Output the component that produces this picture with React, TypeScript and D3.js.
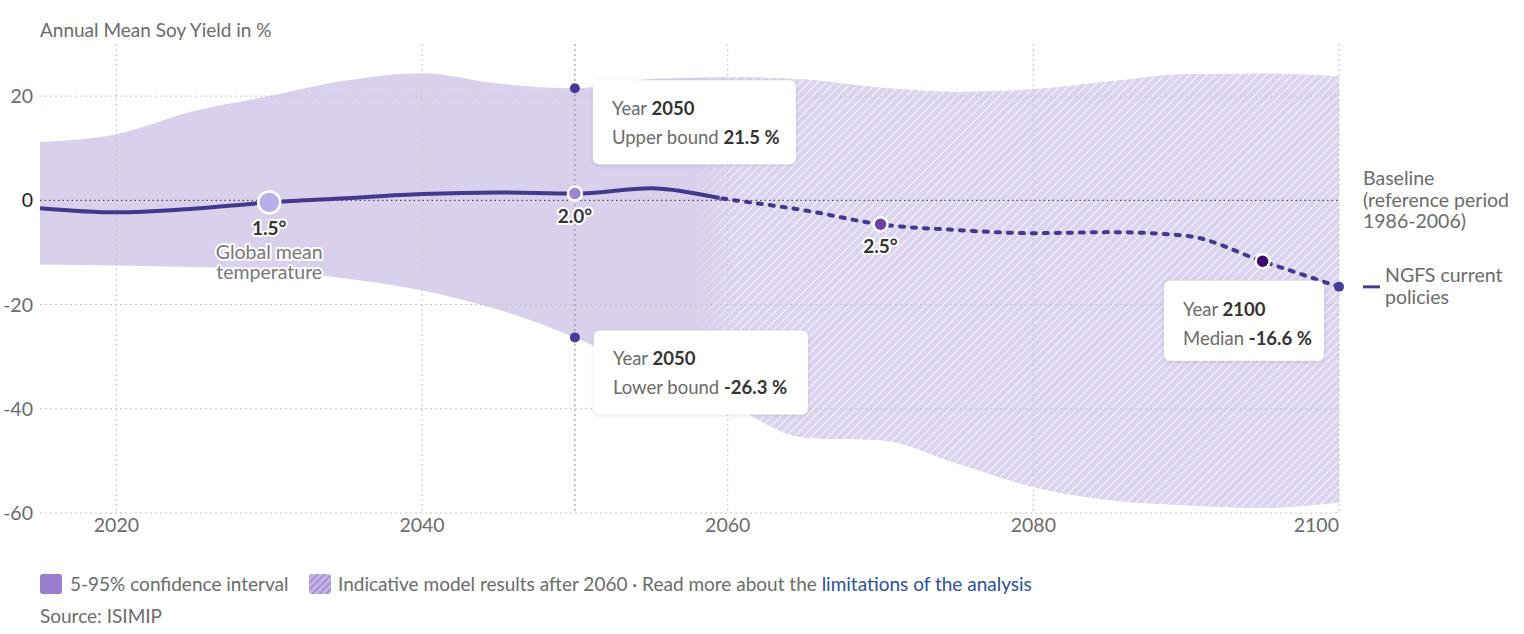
import * as d3 from "d3";

const years = [2015, 2020, 2025, 2030, 2035, 2040, 2045, 2050, 2055, 2060, 2065, 2070, 2075, 2080, 2085, 2090, 2095, 2100];
const median = [-1.5, -2.3, -1.6, -0.4, 0.4, 1.2, 1.5, 1.3, 2.3, 0.2, -1.9, -4.6, -5.7, -6.3, -6.1, -6.8, -11.7, -16.6];
const upper = [11.2, 12.7, 17.1, 20, 23, 24.4, 22.4, 21.5, 23.3, 23.6, 23.2, 21.6, 20.8, 21.3, 22.8, 24.2, 24.3, 23.8];
const lower = [-12.3, -12.5, -12.8, -13.3, -15, -17.3, -21, -26.3, -33, -39, -45.5, -46, -50.5, -55, -57.5, -58.5, -59, -58];

const xTicks = [2020, 2040, 2060, 2080, 2100];
const yTicks = [20, 0, -20, -40, -60];

const tempYears = [2030, 2050, 2070, 2095];
const tempLabels = ["1.5°", "2.0°", "2.5°", ""];
const tempColors = ["#b8aeea", "#9c86cf", "#6b3fa3", "#3c0b6c"];
const tempRadius = [11, 7, 7, 7];

const hatchFrom = 2060;
const hoverYear = 2050;

const W = 1524;
const H = 634;
const FONT = "Lato, 'Open Sans', sans-serif";

const x = d3.scaleLinear().domain([2015, 2100]).range([40, 1339]);
const y = d3.scaleLinear().domain([-60, 30]).range([513, 44]);

const rows = years.map((yr, i) => ({ yr, m: median[i], u: upper[i], l: lower[i] }));
const valAt = (yr: number, arr: number[]) => arr[years.indexOf(yr)];

const area = d3
  .area<(typeof rows)[number]>()
  .x((d) => x(d.yr))
  .y0((d) => y(d.l))
  .y1((d) => y(d.u))
  .curve(d3.curveMonotoneX);

const line = d3
  .line<(typeof rows)[number]>()
  .x((d) => x(d.yr))
  .y((d) => y(d.m))
  .curve(d3.curveMonotoneX);

type TipProps = { bx: number; by: number; w: number; h: number; l1: string; b1: string; l2: string; b2: string };
const Tip = ({ bx, by, w, h, l1, b1, l2, b2 }: TipProps) => (
  <g transform={`translate(${bx},${by})`}>
    <rect width={w} height={h} rx={6} fill="#fff" filter="url(#shadow)" />
    <text x={19} y={35} fontSize={18.5} fill="#6b6b6b">
      {l1} <tspan fontWeight={700} fill="#333">{b1}</tspan>
    </text>
    <text x={19} y={64} fontSize={18.5} fill="#6b6b6b">
      {l2} <tspan fontWeight={700} fill="#333">{b2}</tspan>
    </text>
  </g>
);

export default function App() {
  const hx = x(hatchFrom);
  const hoverX = x(hoverYear);
  const endYear = years[years.length - 1];
  const halo = { paintOrder: "stroke" as const, stroke: "#fff", strokeWidth: 4, strokeLinejoin: "round" as const };

  return (
    <svg width={W} height={H} style={{ position: "absolute", left: 0, top: 0, fontFamily: FONT }}>
      <defs>
        <pattern id="hatch" patternUnits="userSpaceOnUse" width={6} height={6} patternTransform="rotate(45)">
          <rect width={6} height={6} fill="#dcd4ee" />
          <line x1={0} y1={0} x2={0} y2={6} stroke="#fff" strokeWidth={1.6} />
        </pattern>
        <pattern id="hatchLegend" patternUnits="userSpaceOnUse" width={5} height={5} patternTransform="rotate(45)">
          <rect width={5} height={5} fill="#c4b3e6" />
          <line x1={0} y1={0} x2={0} y2={5} stroke="#9a7fd0" strokeWidth={2.6} />
        </pattern>
        <linearGradient id="fadeGrad" gradientUnits="userSpaceOnUse" x1={hx - 35} x2={hx + 10} y1={0} y2={0}>
          <stop offset="0" stopColor="#000" />
          <stop offset="1" stopColor="#fff" />
        </linearGradient>
        <mask id="fadeMask">
          <rect x={0} y={0} width={W} height={H} fill="url(#fadeGrad)" />
        </mask>
        <clipPath id="solidClip">
          <rect x={0} y={0} width={hx - 8} height={H} />
        </clipPath>
        <clipPath id="dashClip">
          <rect x={hx - 8} y={0} width={W} height={H} />
        </clipPath>
        <filter id="shadow" x="-10%" y="-10%" width="120%" height="130%">
          <feDropShadow dx={0} dy={1} stdDeviation={2} floodColor="#000" floodOpacity={0.12} />
        </filter>
      </defs>

      {/* title */}
      <text x={40} y={37} fontSize={19} fill="#6b6b6b">Annual Mean Soy Yield in %</text>

      {/* band */}
      <path d={area(rows) ?? ""} fill="#d9d0eb" />
      <path d={area(rows) ?? ""} fill="url(#hatch)" mask="url(#fadeMask)" />

      {/* grid */}
      {xTicks.map((t) => (
        <line key={t} x1={x(t)} x2={x(t)} y1={44} y2={513} stroke="#c4c4cc" strokeDasharray="2 3" />
      ))}
      {yTicks.map((t) => (
        <line
          key={t}
          x1={40}
          x2={1339}
          y1={y(t)}
          y2={y(t)}
          stroke={t === 0 ? "#333" : "#c4c4cc"}
          strokeDasharray={t === 0 ? "1.5 3" : "2 3"}
        />
      ))}
      <line x1={hoverX} x2={hoverX} y1={44} y2={513} stroke="#8a8a96" strokeDasharray="2 3" />

      {/* axis labels */}
      {yTicks.map((t) => (
        <text key={t} x={33} y={y(t) + 7} textAnchor="end" fontSize={19.5} fill={t === 0 ? "#222" : "#6b6b6b"}>
          {t}
        </text>
      ))}
      {xTicks.map((t) => (
        <text key={t} x={x(t)} y={532} textAnchor={t === endYear ? "end" : "middle"} fontSize={19.5} fill="#6b6b6b">
          {t}
        </text>
      ))}

      {/* median line */}
      <path d={line(rows) ?? ""} fill="none" stroke="#41388f" strokeWidth={4} clipPath="url(#solidClip)" />
      <path
        d={line(rows) ?? ""}
        fill="none"
        stroke="#41388f"
        strokeWidth={4}
        strokeDasharray="4 8"
        strokeLinecap="round"
        clipPath="url(#dashClip)"
      />

      {/* temperature markers */}
      {tempYears.map((yr, i) => {
        const cx = x(yr);
        const cy = y(valAt(yr, median));
        return (
          <g key={yr}>
            <circle cx={cx} cy={cy} r={tempRadius[i]} fill={tempColors[i]} stroke="#fff" strokeWidth={2.5} />
            {tempLabels[i] && (
              <text x={cx} y={cy + tempRadius[i] + 22} textAnchor="middle" fontSize={19} fontWeight={700} fill="#333" style={halo}>
                {tempLabels[i]}
              </text>
            )}
          </g>
        );
      })}
      <text x={x(2030)} y={y(valAt(2030, median)) + 57} textAnchor="middle" fontSize={19.5} fill="#777" style={halo}>
        <tspan x={x(2030)}>Global mean</tspan>
        <tspan x={x(2030)} dy={20}>temperature</tspan>
      </text>

      {/* hover points */}
      <circle cx={hoverX} cy={y(valAt(hoverYear, upper))} r={5} fill="#463c98" />
      <circle cx={hoverX} cy={y(valAt(hoverYear, lower))} r={5} fill="#463c98" />
      <circle cx={x(endYear)} cy={y(valAt(endYear, median))} r={5} fill="#463c98" />

      {/* tooltips */}
      <Tip
        bx={hoverX + 18}
        by={y(valAt(hoverYear, upper)) - 8}
        w={203}
        h={84}
        l1="Year"
        b1={String(hoverYear)}
        l2="Upper bound"
        b2={`${valAt(hoverYear, upper)} %`}
      />
      <Tip
        bx={hoverX + 19}
        by={y(valAt(hoverYear, lower)) - 7}
        w={214}
        h={84}
        l1="Year"
        b1={String(hoverYear)}
        l2="Lower bound"
        b2={`${valAt(hoverYear, lower)} %`}
      />
      <Tip
        bx={x(endYear) - 175}
        by={y(valAt(endYear, median)) - 6}
        w={160}
        h={80}
        l1="Year"
        b1={String(endYear)}
        l2="Median"
        b2={`${valAt(endYear, median)} %`}
      />

      {/* right labels */}
      <text x={1363} y={185} fontSize={19.5} fill="#6b6b6b">
        <tspan x={1363}>Baseline</tspan>
        <tspan x={1363} dy={21.5}>(reference period</tspan>
        <tspan x={1363} dy={21.5}>1986-2006)</tspan>
      </text>
      <line x1={1363} x2={1380} y1={y(valAt(endYear, median))} y2={y(valAt(endYear, median))} stroke="#463c98" strokeWidth={3} />
      <text x={1385} y={282} fontSize={19.5} fill="#6b6b6b">
        <tspan x={1385}>NGFS current</tspan>
        <tspan x={1385} dy={21.5}>policies</tspan>
      </text>

      {/* legend */}
      <rect x={40} y={574} width={22} height={20} rx={3} fill="#9a7fd0" />
      <text x={70} y={591} fontSize={19} fill="#6b6b6b">5-95% confidence interval</text>
      <rect x={309} y={574} width={22} height={20} rx={3} fill="url(#hatchLegend)" />
      <text x={338} y={591} fontSize={19} fill="#6b6b6b">
        Indicative model results after 2060 · Read more about the <tspan fill="#2b4f9e">limitations of the analysis</tspan>
      </text>
      <text x={40} y={623} fontSize={19} fill="#6b6b6b">Source: ISIMIP</text>
    </svg>
  );
}
